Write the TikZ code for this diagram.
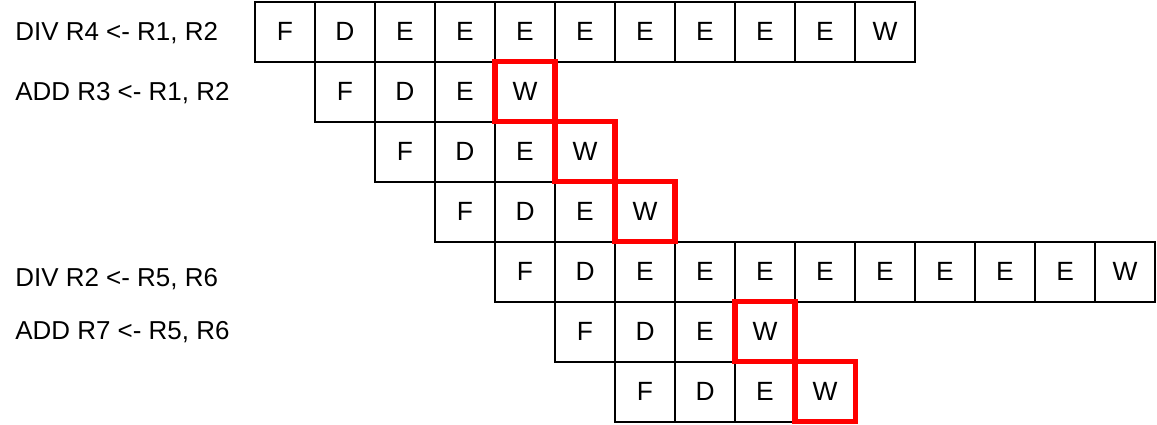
\documentclass[tikz,border=0pt]{standalone}
\usepackage{fontspec}
\setmainfont{Liberation Sans}
\tikzset{
  cell/.style={draw, line width=0.8pt, minimum size=1cm, inner sep=0pt,
    font=\fontsize{12.5}{14}\selectfont},
  wb/.style={cell, draw=red, line width=2.4pt},
  instr/.style={anchor=west, inner sep=0pt, font=\fontsize{12.3}{14}\selectfont}
}
\begin{document}
\begin{tikzpicture}
        \useasboundingbox (0,0) rectangle (19.283,-7.067);
        % Instruction labels
        \node (l1) [instr] at (0.25,-0.56) {DIV R4 <- R1, R2};
        \node (l2) [instr] at (0.25,-1.56) {ADD R3 <- R1, R2};
        \node (l5) [instr] at (0.25,-4.65) {DIV R2 <- R5, R6};
        \node (l6) [instr] at (0.25,-5.54) {ADD R7 <- R5, R6};

        % Pipeline stages
        \foreach \s [count=\k from 0] in {F,D,E,E,E,E,E,E,E,E,W}
          \node (i1-\k) [cell] at (4.75+\k,-0.53) {\s};
        \foreach \s [count=\k from 1] in {F,D,E}
          \node (i2-\k) [cell] at (4.75+\k,-1.53) {\s};
        \foreach \s [count=\k from 2] in {F,D,E}
          \node (i3-\k) [cell] at (4.75+\k,-2.53) {\s};
        \foreach \s [count=\k from 3] in {F,D,E}
          \node (i4-\k) [cell] at (4.75+\k,-3.53) {\s};
        \foreach \s [count=\k from 4] in {F,D,E,E,E,E,E,E,E,E,W}
          \node (i5-\k) [cell] at (4.75+\k,-4.53) {\s};
        \foreach \s [count=\k from 5] in {F,D,E}
          \node (i6-\k) [cell] at (4.75+\k,-5.53) {\s};
        \foreach \s [count=\k from 6] in {F,D,E}
          \node (i7-\k) [cell] at (4.75+\k,-6.53) {\s};

        % Write-back slots
        \node (i2-4) [wb] at (8.75,-1.53) {W};
        \node (i3-5) [wb] at (9.75,-2.53) {W};
        \node (i4-6) [wb] at (10.75,-3.53) {W};
        \node (i6-8) [wb] at (12.75,-5.53) {W};
        \node (i7-9) [wb] at (13.75,-6.53) {W};
    \end{tikzpicture}
\end{document}
